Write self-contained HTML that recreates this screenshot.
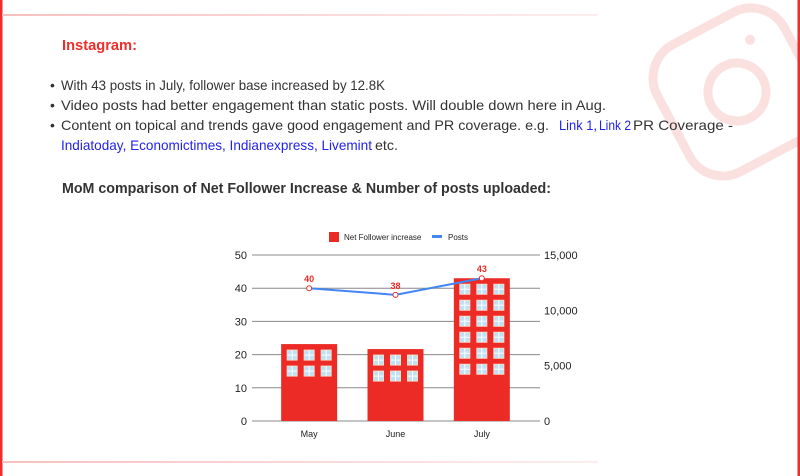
<!DOCTYPE html>
<html><head><meta charset="utf-8"><style>
html,body{margin:0;padding:0;background:#fff;}
svg{display:block;font-family:"Liberation Sans",sans-serif;}
</style></head><body>
<svg id="page" width="800" height="476" viewBox="0 0 800 476">
<defs>
<linearGradient id="fade" x1="0" x2="1" y1="0" y2="0"><stop offset="0" stop-color="#f7c0c0"/><stop offset="1" stop-color="#fdeeee"/></linearGradient>
</defs>
<g transform="rotate(-28 737 92)" fill="none" stroke="#fbe0e0" stroke-width="9">
<rect x="665" y="20" width="144" height="144" rx="38"/>
<circle cx="737" cy="92" r="29"/>
<circle cx="773" cy="52" r="5" fill="#fbe0e0" stroke="none"/>
</g>
<rect x="0" y="0" width="2.5" height="476" fill="#ee2e2a"/>
<rect x="797.5" y="0" width="2.5" height="476" fill="#ee2e2a"/>
<rect x="2" y="14" width="596" height="2" fill="url(#fade)"/>
<rect x="2" y="461" width="596" height="2" fill="url(#fade)"/>
<text x="62" y="50" font-size="14.5" font-weight="bold" fill="#ee2e2a" textLength="75" lengthAdjust="spacingAndGlyphs">Instagram:</text>
<g font-size="14" fill="#333">
<text x="50" y="90">•</text>
<text x="61" y="90" textLength="324" lengthAdjust="spacingAndGlyphs">With 43 posts in July, follower base increased by 12.8K</text>
<text x="50" y="110">•</text>
<text x="61" y="110" textLength="545" lengthAdjust="spacingAndGlyphs">Video posts had better engagement than static posts. Will double down here in Aug.</text>
<text x="50" y="130">•</text>
<text x="61" y="130" textLength="488" lengthAdjust="spacingAndGlyphs">Content on topical and trends gave good engagement and PR coverage. e.g.</text>
<text x="559" y="130" fill="#2222ee" textLength="38" lengthAdjust="spacingAndGlyphs">Link 1,</text>
<text x="599" y="130" fill="#2222ee" textLength="32" lengthAdjust="spacingAndGlyphs">Link 2</text>
<text x="633" y="130" textLength="100" lengthAdjust="spacingAndGlyphs">PR Coverage -</text>
<text x="61" y="150" fill="#2222ee" textLength="311" lengthAdjust="spacingAndGlyphs">Indiatoday, Economictimes, Indianexpress, Livemint</text>
<text x="375" y="150" textLength="23" lengthAdjust="spacingAndGlyphs">etc.</text>
</g>
<text x="62" y="193" font-size="14.5" font-weight="bold" fill="#333" textLength="489" lengthAdjust="spacingAndGlyphs">MoM comparison of Net Follower Increase &amp; Number of posts uploaded:</text>
<g id="chart"></g>
</svg>
<script>
const categories = ["May", "June", "July"];
const followerIncrease = [6950, 6500, 12900];
const posts = [40, 38, 43];
const leftTicks = [0, 10, 20, 30, 40, 50];
const rightTicks = [0, 5000, 10000, 15000];
const rightTickLabels = ["0", "5,000", "10,000", "15,000"];
const windowRows = [2, 2, 6];

const NS = "http://www.w3.org/2000/svg";
const g = document.getElementById("chart");
const X0 = 252, X1 = 540, Y0 = 421, Y1 = 255;
const P0 = 266, P1 = 525;
const yL = v => Y0 - (v / 50) * (Y0 - Y1);
const yR = v => Y0 - (v / 15000) * (Y0 - Y1);
const band = (P1 - P0) / categories.length;
const xC = i => P0 + band * (i + 0.5);
function mk(tag, attrs, parent) {
  const e = document.createElementNS(NS, tag);
  for (const k in attrs) e.setAttribute(k, attrs[k]);
  (parent || g).appendChild(e);
  return e;
}
leftTicks.forEach(t => {
  const l = mk("line", {x1: X0, x2: X1, y1: yL(t), y2: yL(t), stroke: "#888", "stroke-width": 1});
  
  
  const tx = mk("text", {x: 247, y: yL(t) + 4, "font-size": 11, "text-anchor": "end", fill: "#222"});
  tx.textContent = t;
  
  
});
rightTicks.forEach((t, i) => {
  const tx = mk("text", {x: 544, y: yR(t) + 4, "font-size": 11, fill: "#222"});
  tx.textContent = rightTickLabels[i];
  
  
});
categories.forEach((c, i) => {
  const w = 56, x = xC(i) - w / 2, top = yR(followerIncrease[i]);
  const b = mk("rect", {x: x, y: top, width: w, height: Y0 - top, fill: "#ec2b26"});
  
  
  for (let r = 0; r < windowRows[i]; r++) {
    for (let k = 0; k < 3; k++) {
      const wx = x + 6 + k * 17, wy = top + 6 + r * 16;
      const win = mk("rect", {x: wx, y: wy, width: 10, height: 10, fill: "#bfe0f7", stroke: "#f1dcc8", "stroke-width": 1});
      
      
      mk("line", {x1: wx + 5, x2: wx + 5, y1: wy, y2: wy + 10, stroke: "#fff", "stroke-width": 1});
      mk("line", {x1: wx, x2: wx + 10, y1: wy + 5, y2: wy + 5, stroke: "#fff", "stroke-width": 1});
    }
  }
  const lb = mk("text", {x: xC(i), y: 437, "font-size": 9, "text-anchor": "middle", fill: "#222"});
  lb.textContent = c;
  
  
});
const pts = posts.map((p, i) => xC(i) + "," + yL(p)).join(" ");
const line = mk("polyline", {points: pts, fill: "none", stroke: "#4285f4", "stroke-width": 2});


posts.forEach((p, i) => {
  const d = mk("circle", {cx: xC(i), cy: yL(p), r: 2.5, fill: "#fff", stroke: "#ec2b26", "stroke-width": 1});
  
  
  const t = mk("text", {x: xC(i), y: yL(p) - 6, "font-size": 9, "font-weight": "bold", "text-anchor": "middle", fill: "#ec2b26"});
  t.textContent = p;
  
  
});
const lg = mk("g", {});


mk("rect", {x: 329, y: 232, width: 10, height: 10, fill: "#ec2b26"}, lg);
const t1 = mk("text", {x: 344, y: 240, "font-size": 8, fill: "#222"}, lg); t1.textContent = "Net Follower increase";
mk("rect", {x: 432, y: 235, width: 10, height: 3, fill: "#4285f4"}, lg);
const t2 = mk("text", {x: 448, y: 240, "font-size": 8, fill: "#222"}, lg); t2.textContent = "Posts";
</script>
</body></html>
